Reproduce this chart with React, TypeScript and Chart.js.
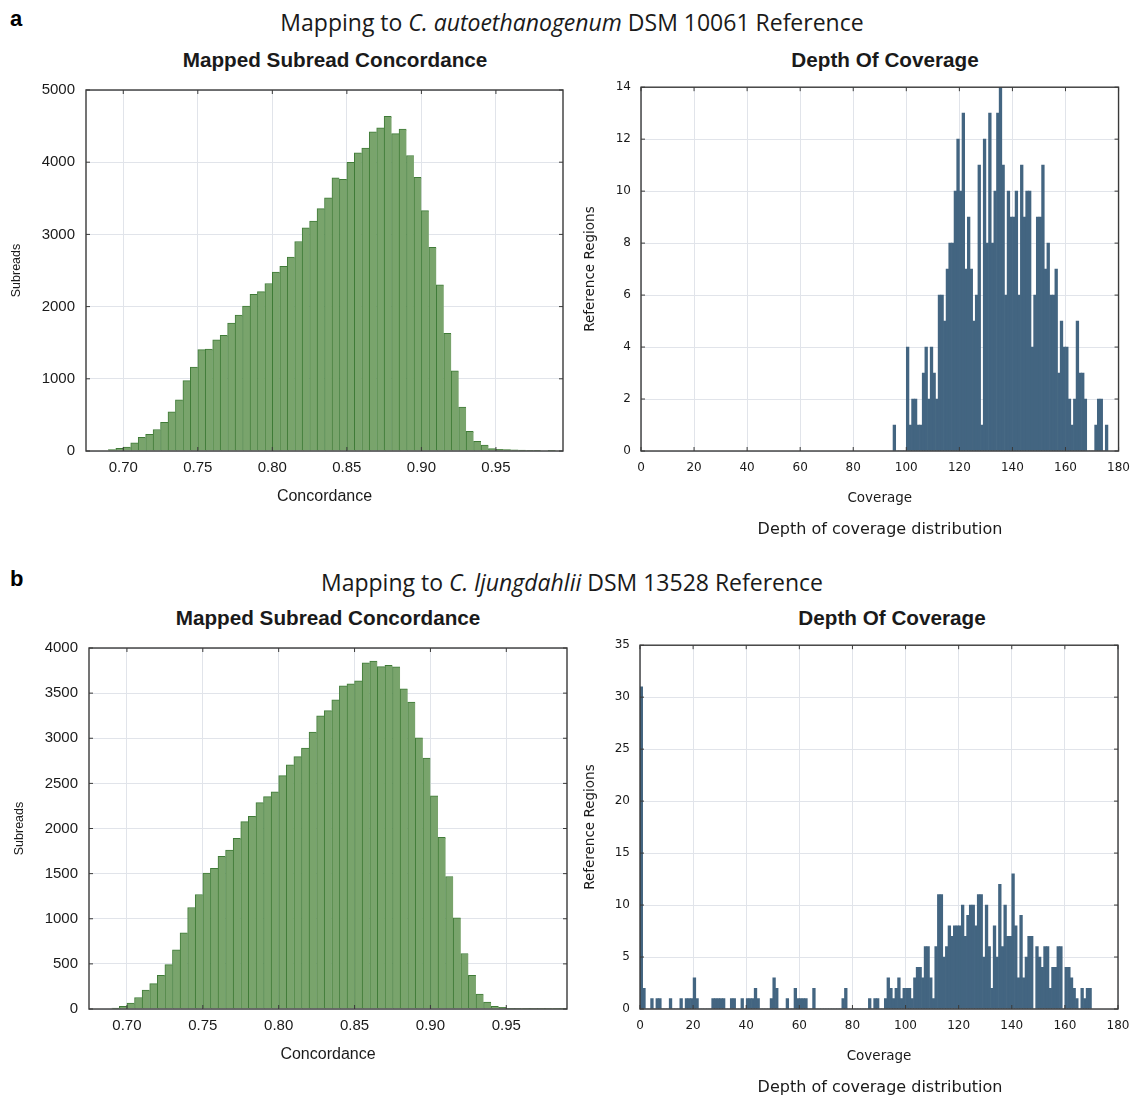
import React, { useEffect, useRef } from "react";
import { Chart, registerables } from "chart.js";

Chart.register(...registerables);

// ---------- data ----------
const CONC_BIN_START = 0.69;
const CONC_BIN_WIDTH = 0.005;
const CONC_TICKS = [0.7, 0.75, 0.8, 0.85, 0.9, 0.95];

const CONC_A_COUNTS = [
  20, 36, 54, 113, 190, 230, 298, 397, 541, 708, 975, 1164, 1403, 1412, 1539, 1602, 1773, 1882, 2008, 2171,
  2207, 2320, 2478, 2559, 2685, 2902, 3091, 3186, 3357, 3506, 3782, 3764, 3998, 4129, 4197, 4422, 4477, 4635,
  4395, 4458, 4093, 3791, 3330, 2820, 2301, 1629, 1110, 609, 271, 135, 81, 32, 23, 18, 15, 12, 8, 5, 0, 3,
];
const SUBREAD_TICKS_A = [0, 1000, 2000, 3000, 4000, 5000];

const CONC_B_COUNTS = [
  10, 29, 65, 127, 210, 282, 372, 492, 655, 843, 1125, 1269, 1505, 1559, 1693, 1761, 1891, 2076, 2134, 2286,
  2354, 2405, 2586, 2705, 2796, 2890, 3067, 3248, 3306, 3425, 3580, 3602, 3635, 3837, 3855, 3794, 3808, 3790,
  3548, 3400, 3005, 2781, 2362, 1902, 1468, 1009, 615, 372, 166, 76, 29, 18, 7, 5, 3, 2, 2, 2, 3, 2,
];
const SUBREAD_TICKS_B = [0, 500, 1000, 1500, 2000, 2500, 3000, 3500, 4000];

const COV_BIN_WIDTH = 1;
const COV_TICKS = [0, 20, 40, 60, 80, 100, 120, 140, 160, 180];

const COV_A_START = 95;
const COV_A_COUNTS = [
  1, 0, 0, 0, 0, 4, 1, 2, 2, 1, 1, 3, 4, 2, 4, 3, 2, 6, 6, 5, 7, 8, 8, 10, 12, 10, 13, 7, 9, 7, 5, 6, 11, 1,
  12, 8, 13, 8, 10, 13, 14, 11, 6, 10, 9, 9, 10, 6, 11, 9, 10, 10, 4, 6, 9, 9, 11, 7, 8, 6, 6, 7, 3, 5, 4, 4,
  2, 1, 2, 5, 3, 3, 2, 0, 0, 0, 1, 2, 2, 0, 1,
];
const REGION_TICKS_A = [0, 2, 4, 6, 8, 10, 12, 14];

const COV_B_START = 0;
const COV_B_COUNTS = [
  31, 2, 0, 0, 1, 0, 1, 1, 0, 0, 0, 1, 0, 0, 0, 1, 0, 1, 1, 1, 3, 1, 0, 0, 0, 0, 0, 1, 1, 1, 1, 1, 0, 0, 1, 1,
  0, 0, 1, 0, 1, 1, 1, 2, 1, 0, 0, 0, 0, 1, 3, 2, 0, 0, 0, 1, 0, 0, 2, 1, 1, 1, 1, 0, 0, 2, 0, 0, 0, 0, 0, 0,
  0, 0, 0, 0, 1, 2, 0, 0, 0, 0, 0, 0, 0, 0, 1, 0, 1, 1, 0, 0, 1, 3, 2, 1, 2, 3, 1, 2, 2, 2, 1, 3, 4, 4, 3, 6,
  6, 3, 1, 6, 11, 11, 5, 6, 8, 7, 8, 8, 8, 10, 7, 9, 10, 10, 8, 11, 11, 5, 10, 6, 2, 8, 5, 12, 6, 10, 7, 7, 13,
  8, 3, 9, 3, 5, 7, 7, 0, 6, 5, 4, 6, 6, 2, 4, 4, 6, 6, 0, 4, 4, 3, 2, 1, 0, 2, 1, 2, 2,
];
const REGION_TICKS_B = [0, 5, 10, 15, 20, 25, 30, 35];

// ---------- styling ----------
const GREEN_FILL = "#79a46c";
const GREEN_EDGE = "#3f7b37";
const BLUE_FILL = "#436581";
const GRID = "#e1e4ea";
const FRAME = "#3a3a3a";

const framePlugin = {
  id: "frameBox",
  afterDraw(chart: any) {
    const { ctx, chartArea: a } = chart;
    ctx.save();
    ctx.strokeStyle = FRAME;
    ctx.lineWidth = 1.4;
    ctx.strokeRect(a.left, a.top, a.right - a.left, a.bottom - a.top);
    ctx.lineWidth = 1;
    const xs = chart.scales.x;
    xs.ticks.forEach((t: any) => {
      const px = xs.getPixelForValue(t.value);
      ctx.beginPath();
      ctx.moveTo(px, a.bottom);
      ctx.lineTo(px, a.bottom - 4);
      ctx.moveTo(px, a.top);
      ctx.lineTo(px, a.top + 4);
      ctx.stroke();
    });
    const ys = chart.scales.y;
    ys.ticks.forEach((t: any) => {
      const py = ys.getPixelForValue(t.value);
      ctx.beginPath();
      ctx.moveTo(a.left, py);
      ctx.lineTo(a.left + 4, py);
      ctx.moveTo(a.right, py);
      ctx.lineTo(a.right - 4, py);
      ctx.stroke();
    });
    ctx.restore();
  },
};

type PanelProps = {
  left: number;
  top: number;
  width: number;
  height: number;
  pad: { left: number; top: number; right: number; bottom: number };
  yWidth: number;
  xHeight: number;
  start: number;
  binWidth: number;
  counts: number[];
  fill: string;
  edge: string | null;
  xMin: number;
  xMax: number;
  xTicks: number[];
  xDigits: number;
  yMax: number;
  yTicks: number[];
  xTitle: string;
  yTitle: string;
  family: string;
  tickSize: number;
  xTitleSize: number;
  yTitleSize: number;
  xTickPad: number;
  yTickPad: number;
  xTitlePad: number;
  yTitlePad: number;
};

function HistPanel(p: PanelProps) {
  const ref = useRef<HTMLCanvasElement | null>(null);
  useEffect(() => {
    if (!ref.current) return;
    const data = p.counts.map((c, i) => ({ x: p.start + (i + 0.5) * p.binWidth, y: c }));
    const tickFont = { family: p.family, size: p.tickSize };
    const chart = new Chart(ref.current, {
      type: "bar",
      data: {
        datasets: [
          {
            data,
            backgroundColor: p.fill,
            borderColor: p.edge || p.fill,
            borderWidth: p.edge ? { top: 1, left: 1, right: 0, bottom: 0 } : 0,
            borderSkipped: false,
            barPercentage: 1,
            categoryPercentage: 1,
          } as any,
        ],
      },
      plugins: [framePlugin],
      options: {
        animation: false,
        responsive: false,
        devicePixelRatio: 1,
        layout: { padding: p.pad },
        plugins: { legend: { display: false }, tooltip: { enabled: false } },
        scales: {
          x: {
            type: "linear",
            min: p.xMin,
            max: p.xMax,
            offset: false,
            afterBuildTicks: (s: any) => {
              s.ticks = p.xTicks.map((v) => ({ value: v }));
            },
            afterFit: (s: any) => {
              s.height = p.xHeight;
            },
            grid: { color: GRID, drawTicks: false, offset: false },
            border: { display: false },
            ticks: {
              autoSkip: false,
              maxRotation: 0,
              padding: p.xTickPad,
              color: "#1a1a1a",
              font: tickFont,
              callback: (v: any) => Number(v).toFixed(p.xDigits),
            },
            title: {
              display: true,
              text: p.xTitle,
              color: "#1a1a1a",
              font: { family: p.family, size: p.xTitleSize },
              padding: { top: 0, bottom: p.xTitlePad },
            },
          },
          y: {
            type: "linear",
            min: 0,
            max: p.yMax,
            afterBuildTicks: (s: any) => {
              s.ticks = p.yTicks.map((v) => ({ value: v }));
            },
            afterFit: (s: any) => {
              s.width = p.yWidth;
            },
            grid: { color: GRID, drawTicks: false },
            border: { display: false },
            ticks: {
              padding: p.yTickPad,
              color: "#1a1a1a",
              font: tickFont,
              callback: (v: any) => String(v),
            },
            title: {
              display: true,
              text: p.yTitle,
              color: "#1a1a1a",
              font: { family: p.family, size: p.yTitleSize },
              padding: { top: p.yTitlePad, bottom: 0 },
            },
          },
        },
      } as any,
    });
    return () => chart.destroy();
  }, []);
  return (
    <div style={{ position: "absolute", left: p.left, top: p.top, width: p.width, height: p.height }}>
      <canvas ref={ref} width={p.width} height={p.height} style={{ width: p.width, height: p.height, display: "block" }} />
    </div>
  );
}

const Txt = (props: { x: number; y: number; size: number; family: string; weight?: any; children: any }) => (
  <div
    style={{
      position: "absolute",
      left: props.x,
      top: props.y,
      transform: "translate(-50%, -50%)",
      whiteSpace: "nowrap",
      fontSize: props.size,
      fontFamily: props.family,
      fontWeight: props.weight || "normal",
      color: "#1a1a1a",
      lineHeight: 1,
    }}
  >
    {props.children}
  </div>
);

const TITLE_FONT = "'Open Sans', 'Noto Sans', sans-serif";
const SUB_FONT = "'Liberation Sans', Arial, sans-serif";
const DV_FONT = "'DejaVu Sans', sans-serif";

export default function App() {
  const concCommon = {
    width: 580,
    height: 450,
    yWidth: 86,
    xHeight: 69,
    start: CONC_BIN_START,
    binWidth: CONC_BIN_WIDTH,
    fill: GREEN_FILL,
    edge: GREEN_EDGE,
    xMin: 0.675,
    xTicks: CONC_TICKS,
    xDigits: 2,
    xTitle: "Concordance",
    yTitle: "Subreads",
    family: SUB_FONT,
    tickSize: 15,
    xTitleSize: 16,
    yTitleSize: 12.5,
    xTickPad: 8,
    yTickPad: 11,
    xTitlePad: 14,
    yTitlePad: 9,
  };
  const covCommon = {
    width: 560,
    height: 450,
    yWidth: 61,
    xHeight: 69,
    binWidth: COV_BIN_WIDTH,
    fill: BLUE_FILL,
    edge: null,
    xMin: 0,
    xMax: 180,
    xTicks: COV_TICKS,
    xDigits: 0,
    xTitle: "Coverage",
    yTitle: "Reference Regions",
    family: DV_FONT,
    tickSize: 12,
    xTitleSize: 13.5,
    yTitleSize: 13.5,
    xTickPad: 10,
    yTickPad: 10,
    xTitlePad: 13,
    yTitlePad: 2,
  };
  return (
    <div style={{ position: "absolute", left: 0, top: 0, width: 1142, height: 1096, background: "#fff", overflow: "hidden" }}>
      {/* panel a */}
      <div style={{ position: "absolute", left: 10, top: 8, fontFamily: SUB_FONT, fontWeight: "bold", fontSize: 22, lineHeight: 1 }}>a</div>
      <Txt x={572} y={22} size={23} family={TITLE_FONT} weight={500}>
        Mapping to <i>C. autoethanogenum</i> DSM 10061 Reference
      </Txt>
      <Txt x={335} y={60} size={20.7} family={SUB_FONT} weight="bold">
        Mapped Subread Concordance
      </Txt>
      <Txt x={885} y={60} size={20.7} family={SUB_FONT} weight="bold">
        Depth Of Coverage
      </Txt>
      <HistPanel
        {...concCommon}
        left={0}
        top={70}
        pad={{ left: 0, top: 12, right: 17, bottom: 0 }}
        counts={CONC_A_COUNTS}
        xMax={0.995}
        yMax={5000}
        yTicks={SUBREAD_TICKS_A}
      />
      <HistPanel
        {...covCommon}
        left={580}
        top={70}
        pad={{ left: 0, top: 12, right: 21, bottom: 0 }}
        start={COV_A_START}
        counts={COV_A_COUNTS}
        yMax={14}
        yTicks={REGION_TICKS_A}
      />
      <Txt x={880} y={529} size={16} family={DV_FONT}>
        Depth of coverage distribution
      </Txt>

      {/* panel b */}
      <div style={{ position: "absolute", left: 10, top: 568, fontFamily: SUB_FONT, fontWeight: "bold", fontSize: 22, lineHeight: 1 }}>b</div>
      <Txt x={572} y={582} size={23} family={TITLE_FONT} weight={500}>
        Mapping to <i>C. ljungdahlii</i> DSM 13528 Reference
      </Txt>
      <Txt x={328} y={618} size={20.7} family={SUB_FONT} weight="bold">
        Mapped Subread Concordance
      </Txt>
      <Txt x={892} y={618} size={20.7} family={SUB_FONT} weight="bold">
        Depth Of Coverage
      </Txt>
      <HistPanel
        {...concCommon}
        left={0}
        top={628}
        pad={{ left: 3, top: 13, right: 13, bottom: 0 }}
        counts={CONC_B_COUNTS}
        xMax={0.99}
        yMax={4000}
        yTicks={SUBREAD_TICKS_B}
      />
      <HistPanel
        {...covCommon}
        left={580}
        top={628}
        pad={{ left: 0, top: 13, right: 22, bottom: 0 }}
        yWidth={60}
        start={COV_B_START}
        counts={COV_B_COUNTS}
        yMax={35}
        yTicks={REGION_TICKS_B}
      />
      <Txt x={880} y={1087} size={16} family={DV_FONT}>
        Depth of coverage distribution
      </Txt>
    </div>
  );
}
